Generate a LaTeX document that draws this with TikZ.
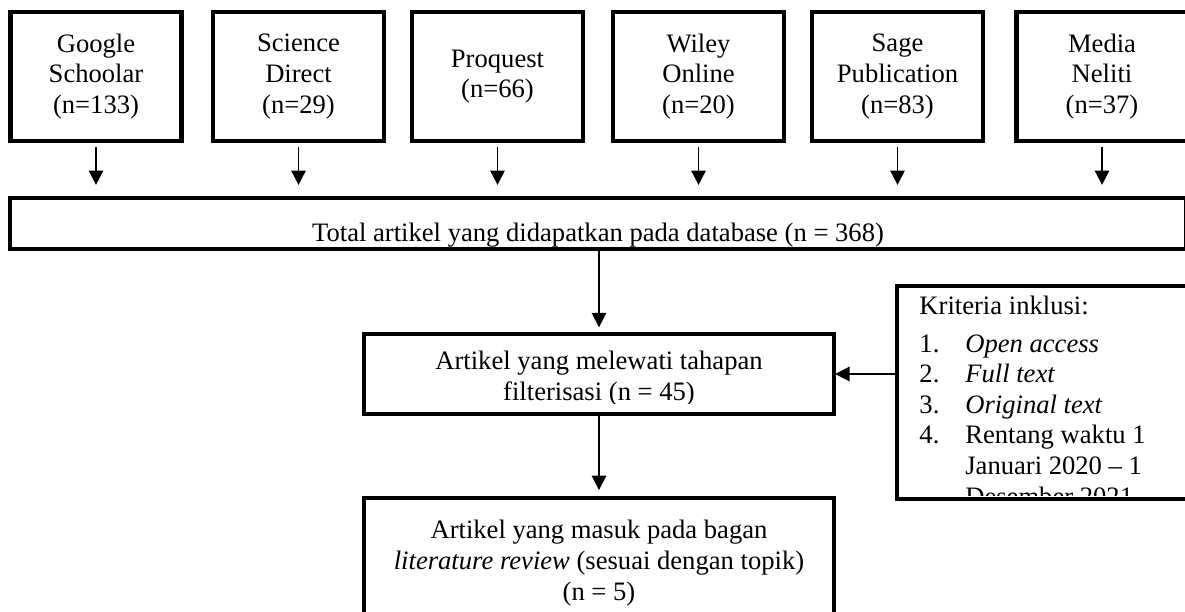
\documentclass[tikz,border=0pt]{standalone}
\usepackage{fontspec}
\setmainfont{Liberation Serif}
\usepackage{tikz}
\usetikzlibrary{positioning, arrows.meta}

\begin{document}
\begin{tikzpicture}[x=0.451pt, y=-0.451pt]
    % Define styles
    \tikzset{
        every node/.style={font=\fontsize{12}{13.8}\selectfont},
        source/.style={rectangle, draw, line width=2pt, outer sep=0pt, align=center, minimum width=77.1pt, minimum height=58.2pt},
        panel/.style={rectangle, draw, line width=2pt, outer sep=0pt, inner sep=0pt},
        boxtext/.style={inner sep=0pt, anchor=base, align=center},
        arrow/.style={-{Triangle[width=6.5pt, length=6.5pt]}, line width=0.8pt}
    }
    \useasboundingbox (0,0) rectangle (1185,612);
    \clip (0,0) rectangle (1185,612);

    % Nodes for the databases
    \node (google) [source] at (96,76.5) {Google\\Schoolar\\(n=133)};
    \node (science) [source] at (298.5,76.5) {Science\\Direct\\(n=29)};
    \node (proquest) [source] at (497.5,76.5) {Proquest\\(n=66)};
    \node (wiley) [source] at (698.5,76.5) {Wiley\\Online\\(n=20)};
    \node (sage) [source] at (897.5,76.5) {Sage\\Publication\\(n=83)};
    \node (media) [source] at (1102,76.5) {Media\\Neliti\\(n=37)};

    % Frames of the selection steps
    \node (total) [panel, minimum width=530.4pt, minimum height=23pt] at (598,223.5) {};
    \node (filter) [panel, minimum width=212pt, minimum height=36.1pt] at (599,374) {};
    \node (criteria) [panel, minimum width=136.7pt, minimum height=96.1pt] at (1048.5,392.5) {};
    \node (final) [panel, minimum width=212pt, minimum height=64pt] at (599,569) {};

    % Texts of the selection steps (base = last line)
    \begin{scope}
        \clip (12,200) rectangle (1184,247);
        \node (totaltext) [boxtext] at (598,242) {Total artikel yang didapatkan pada database (n = 368)};
    \end{scope}
    \begin{scope}
        \clip (366,336) rectangle (832,403);
        \node (filtertext) [boxtext] at (599,400) {Artikel yang melewati tahapan\\filterisasi (n = 45)};
    \end{scope}
    \begin{scope}
        \clip (899,288) rectangle (1185,495);
        \node (criteriatext) [boxtext, anchor=base west, align=left] at (919,505) {Kriteria inklusi:\\[2.9pt]
            \makebox[20.7pt][l]{1.}\textit{Open access}\\
            \makebox[20.7pt][l]{2.}\textit{Full text}\\
            \makebox[20.7pt][l]{3.}\textit{Original text}\\
            \makebox[20.7pt][l]{4.}Rentang waktu 1\\
            \makebox[20.7pt][l]{}Januari 2020 -- 1\\
            \makebox[20.7pt][l]{}Desember 2021};
    \end{scope}
    \node (finaltext) [boxtext] at (599,600) {Artikel yang masuk pada bagan\\\textit{literature review} (sesuai dengan topik)\\(n = 5)};

    % Arrows between nodes
    \foreach \src in {google, science, proquest, wiley, sage, media}
        \draw [arrow, shorten <=2.7pt, shorten >=5.9pt] (\src.south) -- (\src.south |- total.north);
    \draw [arrow, shorten >=3pt] (total.south -| filter.north) -- (filter.north);
    \draw [arrow, shorten >=0.5pt] (criteria.west |- filter.east) -- (filter.east);
    \draw [arrow, shorten >=3.6pt] (filter) -- (final);

\end{tikzpicture}
\end{document}
